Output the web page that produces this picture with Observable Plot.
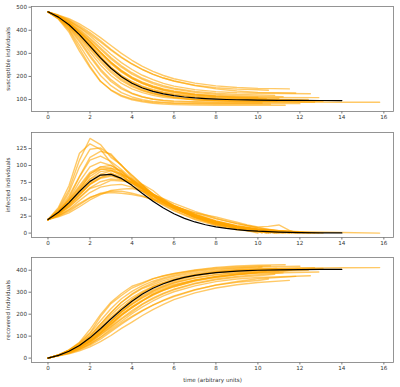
<!DOCTYPE html>
<html><head><meta charset="utf-8">
<script src="https://cdn.jsdelivr.net/npm/d3@7"></script>
<script src="https://cdn.jsdelivr.net/npm/@observablehq/plot@0.6"></script>
<style>
html,body{margin:0;padding:0;background:#fff;}
#chart{width:400px;height:387px;overflow:hidden;}
#chart svg{display:block;}
</style></head>
<body><div id="chart"></div>
<script>
// ---- deterministic solution (black line) ----
const detT = [0,0.5,1,1.5,2,2.5,3,3.5,4,4.5,5,5.5,6,6.5,7,7.5,8,8.5,9,9.5,10,11,12,13,14];
const detS = [480,456.9,423.9,381.1,331.3,280.7,235.3,198.5,170.5,149.9,135,124.3,116.5,110.9,106.8,103.9,101.7,100.1,98.9,98,97.3,96.4,95.9,95.6,95.5];
const detI = [20,30.8,45.1,61.5,76.5,85.8,86.9,80.9,70.6,58.7,47.2,37.1,28.6,21.8,16.5,12.4,9.3,6.9,5.1,3.8,2.8,1.5,0.85,0.47,0.26];
const detR = [0,12.3,31,57.4,92.2,133.5,177.8,220.6,258.9,291.4,317.8,338.6,354.9,367.3,376.7,383.7,389,393,396,398.2,399.9,402.1,403.25,403.9,404.2];

// ---- stochastic runs (orange lines) ----
const g = [0,0.5,1,1.5,2,2.5,3,3.5,4,4.5,5,5.5,6,7,8,9,10];
const runTimes = [
  [...g, 11.3],
  [...g, 10.6],
  [...g, 12.7],
  [...g, 10.2],
  [...g, 13.1],
  [...g, 12, 14, 15.8],
  [...g, 11.0],
  [0,0.5,1,1.5,2,2.5,3,3.5,4,4.5,5,5.5,6,7,8,8.5,9,9.5,10,10.5,11,11.5,11.9],
  [...g, 10.8],
  [...g, 12.5],
  [...g, 10.5],
  [...g, 11.5],
  [...g],
  [...g, 12.2],
  [...g, 12.0],
  [...g, 11.8],
  [...g, 11.6],
  [...g, 12.9],
  [...g, 10.9],
  [...g, 11.2],
  [...g, 12.4],
  [...g, 10.4]
];
const runS = [
  [480,450,400,322,245,180,140,114,99,90,84,80,78,76,75,75,75,75],
  [480,448,392,310,238,178,142,118,103,94,88,85,83,81,80,80,80,80],
  [480,452,410,350,285,225,178,146,125,111,102,97,94,91,89,88,88,88],
  [480,455,415,357,292,232,186,152,128,112,101,95,91,88,86,85,85,85],
  [480,458,426,386,338,286,236,196,166,145,130,119,111,101,96,94,93,92],
  [480,456,420,376,324,272,226,188,160,140,126,116,108,99,94,91,90,89,88,88],
  [480,460,432,395,352,305,260,222,192,170,153,140,131,119,112,108,106,105],
  [480,457,424,382,334,284,240,204,178,158,144,133,125,115,108,106,104,103,102,99,96,96,96],
  [480,462,438,405,366,324,282,246,216,192,174,160,149,135,127,122,120,118],
  [480,463,442,412,376,336,296,260,230,205,186,170,158,143,134,129,127,125],
  [480,464,446,420,390,355,318,284,255,230,210,193,180,162,151,145,142,140],
  [480,466,450,428,400,368,334,300,270,244,222,204,190,171,159,152,148,146],
  [480,458,430,394,352,306,262,226,197,175,159,146,137,124,116,112,110],
  [480,454,416,366,306,250,204,170,146,130,118,110,105,99,97,96,95,95],
  [480,451,404,336,264,204,160,130,111,99,92,88,85,83,82,82,82,82],
  [480,462,441,414,383,349,314,281,253,229,209,193,180,160,146,137,131,128],
  [480,457,425,384,336,286,241,204,175,154,139,128,120,110,104,101,99,98],
  [480,459,430,393,350,304,260,224,195,173,157,144,135,122,115,111,109,108],
  [480,455,419,372,318,264,218,182,156,138,125,116,109,100,95,93,92,92],
  [480,460,434,400,360,318,276,240,210,187,169,155,145,131,122,117,114,112],
  [480,456,422,380,330,280,236,200,173,153,139,129,121,111,105,102,101,100],
  [480,458,428,390,345,298,254,218,190,169,153,141,132,120,112,108,105,104]
];
const runI = [
  [20,36,64,108,140,131,112,101,82,71,55,45,37,23,12,6,2,0],
  [20,38,70,118,132,124,104,88,70,62,50,41,33,20,11,5,2,0],
  [20,33,55,84,112,121,117,100,86,72,63,50,41,27,17,10,5,0],
  [20,31,52,83,108,114,106,94,80,67,56,45,37,24,14,7,3,0],
  [20,29,44,64,87,98,100,92,78,70,58,50,39,25,15,9,5,0],
  [20,31,48,68,88,95,93,85,74,62,51,42,34,21,13,8,5,2,1,0],
  [20,28,40,56,72,82,86,79,76,69,56,47,38,25,16,9,5,0],
  [20,30,45,63,80,91,93,88,78,68,58,48,40,30,24,20,16,12,9,10,12,4,0],
  [20,27,38,52,66,71,78,77,75,64,56,48,40,27,17,10,5,0],
  [20,26,35,48,60,68,71,72,68,62,54,47,40,28,18,11,6,0],
  [20,25,32,42,52,59,62,62,59,55,49,43,37,26,17,10,5,0],
  [20,24,30,39,49,57,63,65,66,62,57,51,44,32,22,14,8,0],
  [20,29,41,57,73,82,89,81,74,65,52,46,38,24,14,7,0],
  [20,32,50,76,98,105,100,90,78,66,55,45,37,24,15,9,4,0],
  [20,34,60,98,124,126,115,100,85,71,58,47,38,23,13,7,3,0],
  [20,26,34,44,53,58,60,59,57,54,50,45,40,30,21,14,8,0],
  [20,30,44,62,80,87,92,86,80,66,55,46,37,24,15,9,4,0],
  [20,29,42,57,72,81,84,81,75,67,57,48,40,27,17,10,5,0],
  [20,32,49,70,90,98,96,92,77,65,51,44,36,23,14,8,4,0],
  [20,28,39,53,67,76,80,79,74,66,57,49,41,28,18,11,6,0],
  [20,31,47,66,84,94,96,87,79,71,57,46,36,25,16,10,5,0],
  [20,29,43,59,75,85,88,84,76,67,57,48,39,26,16,9,4,0]
];
const runR = [
  [0,14,36,70,115,189,248,285,319,339,361,375,385,401,413,419,423,425],
  [0,14,38,72,130,198,254,294,327,344,362,374,384,399,409,415,418,420],
  [0,15,35,66,103,154,205,254,289,317,335,353,365,382,394,402,407,412],
  [0,14,33,60,100,154,208,254,292,321,343,360,372,388,400,408,412,415],
  [0,13,30,50,75,116,164,212,256,285,312,331,350,374,389,397,402,408],
  [0,13,32,56,88,133,181,227,266,298,323,342,358,380,393,401,405,409,411,412],
  [0,12,28,49,76,113,154,199,232,261,291,313,331,356,372,383,389,395],
  [0,13,31,55,86,125,167,208,244,274,298,319,335,355,368,374,380,385,389,391,392,400,404],
  [0,11,24,43,68,105,140,177,209,244,270,292,311,338,356,368,375,382],
  [0,11,23,40,64,96,133,168,202,233,260,283,302,329,348,360,367,375],
  [0,11,22,38,58,86,120,154,186,215,241,264,283,312,332,345,353,360],
  [0,10,20,33,51,75,103,135,164,194,221,245,266,297,319,334,344,354],
  [0,13,29,49,75,112,149,193,229,260,289,308,325,352,370,381,390],
  [0,14,34,58,96,145,196,240,276,304,327,345,358,377,388,395,401,405],
  [0,15,36,66,112,170,225,270,304,330,350,365,377,394,405,411,415,418],
  [0,12,25,42,64,93,126,160,190,217,241,262,280,310,333,349,361,372],
  [0,13,31,54,84,127,167,210,245,280,306,326,343,366,381,390,397,402],
  [0,12,28,50,78,115,156,195,230,260,286,308,325,351,368,379,386,392],
  [0,13,32,58,92,138,186,226,267,297,324,340,355,377,391,399,404,408],
  [0,12,27,47,73,106,144,181,216,247,274,296,314,341,360,372,380,388],
  [0,13,31,54,86,126,168,213,248,276,304,325,343,364,379,388,394,400],
  [0,13,29,51,80,117,158,198,234,264,290,311,329,354,372,383,391,396]
];

const xTicks = [0,2,4,6,8,10,12,14,16];
const sTicks = [100,200,300,400,500];
const iTicks = [0,25,50,75,100,125];
const rTicks = [0,100,200,300,400];
const labels = ["susceptible individuals","infected individuals","recovered individuals"];
const xLabel = "time (arbitrary units)";

function rowsOf(vals) {
  const out = [];
  vals.forEach((arr, r) => arr.forEach((v, i) => out.push({run: r, t: runTimes[r][i], v})));
  return out;
}
function detRows(vals) { return vals.map((v, i) => ({t: detT[i], v})); }

const FONT = {fontSize: "5.6px", fontFamily: "DejaVu Sans, sans-serif", color: "#333", background: "#fff"};

function panel({vals, det, yDomain, yTicks, label, height, mt, mb, showXLabel}) {
  return Plot.plot({
    width: 400, height,
    marginTop: mt, marginBottom: mb, marginLeft: 31, marginRight: 7,
    style: FONT,
    x: {domain: [-0.785, 16.46]},
    y: {domain: yDomain},
    marks: [
      Plot.line(rowsOf(vals), {x: "t", y: "v", z: "run", stroke: "orange", strokeOpacity: 0.6, strokeWidth: 1.4}),
      Plot.line(detRows(det), {x: "t", y: "v", stroke: "#000", strokeWidth: 1.2}),
      Plot.frame({stroke: "#7a7a7a", strokeWidth: 0.8}),
      Plot.axisX({ticks: xTicks, tickSize: 2.5, tickPadding: 1.5, stroke: "#7a7a7a",
        label: showXLabel ? xLabel : null, labelAnchor: "center", labelOffset: 19, labelArrow: "none", fontSize: 5.6}),
      Plot.axisY({ticks: yTicks, tickSize: 2.5, tickPadding: 2, stroke: "#7a7a7a",
        label, labelAnchor: "center", labelOffset: 25, labelArrow: "none", fontSize: 5.6})
    ]
  });
}

const root = document.getElementById("chart");
root.append(panel({vals: runS, det: detS, yDomain: [48, 503], yTicks: sTicks, label: labels[0], height: 125, mt: 6, mb: 14, showXLabel: false}));
root.append(panel({vals: runI, det: detI, yDomain: [-6.5, 148.8], yTicks: iTicks, label: labels[1], height: 125, mt: 7, mb: 13, showXLabel: false}));
root.append(panel({vals: runR, det: detR, yDomain: [-20, 458], yTicks: rTicks, label: labels[2], height: 137, mt: 7, mb: 25, showXLabel: true}));
</script></body></html>
